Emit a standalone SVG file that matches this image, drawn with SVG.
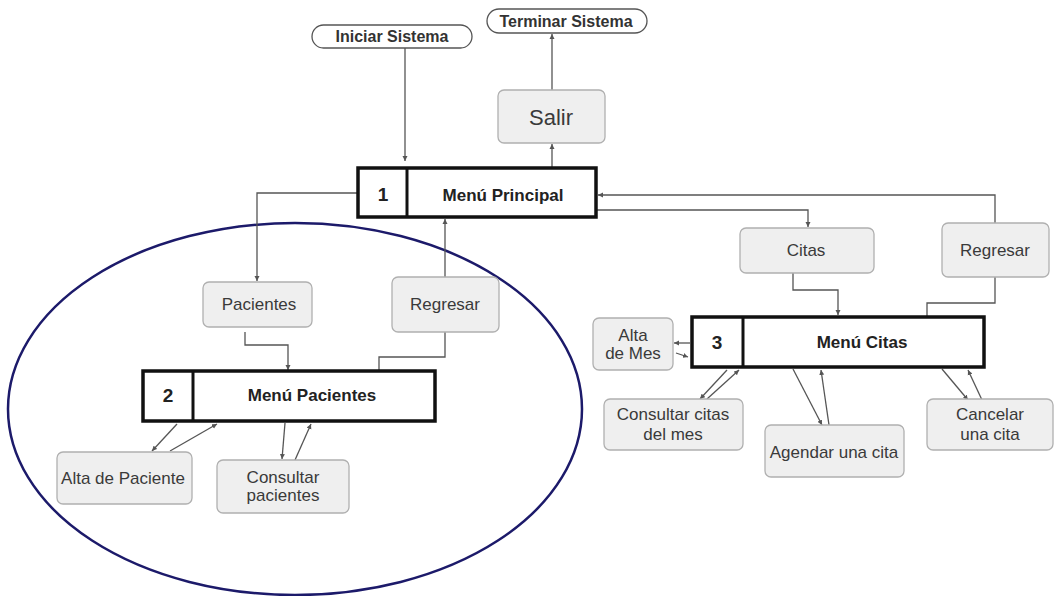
<svg xmlns="http://www.w3.org/2000/svg" width="1054" height="596" viewBox="0 0 1054 596">
<defs>
<marker id="ah" markerWidth="6" markerHeight="6" refX="5" refY="3" orient="auto" markerUnits="userSpaceOnUse">
<path d="M0,0.5 L5,3 L0,5.5 Z" fill="#555"/>
</marker>
<style>
.box{fill:#efefef;stroke:#b0b0b0;stroke-width:1.3}
.pill{fill:#fff;stroke:#555;stroke-width:1.3}
.menu{fill:#fff;stroke:#111;stroke-width:3.5}
.t{font-family:"Liberation Sans",Arial,sans-serif;font-size:17px;fill:#3a3a3a;text-anchor:middle}
.b{font-family:"Liberation Sans",Arial,sans-serif;font-size:17px;font-weight:bold;fill:#222;text-anchor:middle}
.p{font-family:"Liberation Sans",Arial,sans-serif;font-size:16px;font-weight:bold;fill:#333;text-anchor:middle}
.c{fill:none;stroke:#555;stroke-width:1.3}
.ca{fill:none;stroke:#555;stroke-width:1.3;marker-end:url(#ah)}
</style>
</defs>
<rect width="1054" height="596" fill="#fff"/>
<ellipse cx="295" cy="409" rx="287" ry="186" fill="none" stroke="#1c1a6a" stroke-width="2.5"/>
<g id="connectors">
<path class="ca" d="M405,48 V161"/>
<path class="ca" d="M552,90 V34"/>
<path class="ca" d="M552,167 V144"/>
<path class="ca" d="M357,193 H257 V281"/>
<path class="ca" d="M445,277 V219"/>
<path class="ca" d="M245,332 V345 H288 V370"/>
<path class="c" d="M379,370 V357 H445 V332"/>
<path class="ca" d="M177,424 L152,451"/>
<path class="ca" d="M170,451 L217,424"/>
<path class="ca" d="M285,423 L282,459"/>
<path class="ca" d="M295,460 L311,424"/>
<path class="ca" d="M995,223 V195 H598"/>
<path class="ca" d="M597,210 H808 V227"/>
<path class="ca" d="M793,273 V290 H838 V315"/>
<path class="c" d="M927,316 V303 H995 V277"/>
<path class="ca" d="M690,343 H674"/>
<path class="ca" d="M676,353 L688,357"/>
<path class="ca" d="M727,370 L700,399"/>
<path class="ca" d="M707,399 L739,370"/>
<path class="ca" d="M793,369 L822,425"/>
<path class="ca" d="M829,425 L821,370"/>
<path class="ca" d="M942,369 L968,400"/>
<path class="ca" d="M982,400 L968,370"/>
</g>
<g id="iniciar">
<rect class="pill" x="312" y="25" width="160" height="23" rx="11.5"/>
<text class="p" x="392" y="42">Iniciar Sistema</text>
</g>
<g id="terminar">
<rect class="pill" x="487" y="9" width="160" height="24" rx="12"/>
<text class="p" x="566" y="27">Terminar Sistema</text>
</g>
<g id="salir">
<rect class="box" x="498" y="90" width="107" height="53" rx="6"/>
<text class="t" x="551" y="125" style="font-size:22px">Salir</text>
</g>
<g id="menu-principal">
<rect class="menu" x="358" y="168" width="238" height="49"/>
<line x1="407" y1="168" x2="407" y2="217" stroke="#111" stroke-width="3"/>
<text class="b" x="383" y="201" style="font-size:19px">1</text>
<text class="b" x="503" y="201">Menú Principal</text>
</g>
<g id="pacientes">
<rect class="box" x="203" y="282" width="109" height="45" rx="6"/>
<text class="t" x="259" y="310">Pacientes</text>
</g>
<g id="regresar-1">
<rect class="box" x="392" y="277" width="107" height="55" rx="6"/>
<text class="t" x="445" y="310">Regresar</text>
</g>
<g id="menu-pacientes">
<rect class="menu" x="143" y="371" width="292" height="50"/>
<line x1="193" y1="371" x2="193" y2="421" stroke="#111" stroke-width="3"/>
<text class="b" x="168" y="402" style="font-size:19px">2</text>
<text class="b" x="312" y="401">Menú Pacientes</text>
</g>
<g id="alta-paciente">
<rect class="box" x="57" y="452" width="135" height="52" rx="6"/>
<text class="t" x="123" y="484">Alta de Paciente</text>
</g>
<g id="consultar-pacientes">
<rect class="box" x="217" y="460" width="132" height="53" rx="6"/>
<text class="t" x="283" y="483">Consultar</text>
<text class="t" x="283" y="501">pacientes</text>
</g>
<g id="citas">
<rect class="box" x="740" y="228" width="134" height="45" rx="6"/>
<text class="t" x="806" y="256">Citas</text>
</g>
<g id="regresar-2">
<rect class="box" x="942" y="223" width="107" height="54" rx="6"/>
<text class="t" x="995" y="256">Regresar</text>
</g>
<g id="menu-citas">
<rect class="menu" x="692" y="317" width="292" height="50"/>
<line x1="743" y1="317" x2="743" y2="367" stroke="#111" stroke-width="3"/>
<text class="b" x="717" y="349" style="font-size:19px">3</text>
<text class="b" x="862" y="348">Menú Citas</text>
</g>
<g id="alta-mes">
<rect class="box" x="593" y="318" width="80" height="52" rx="6"/>
<text class="t" x="633" y="341">Alta</text>
<text class="t" x="633" y="359">de Mes</text>
</g>
<g id="consultar-citas">
<rect class="box" x="604" y="399" width="139" height="51" rx="6"/>
<text class="t" x="673" y="420">Consultar citas</text>
<text class="t" x="673" y="440">del mes</text>
</g>
<g id="agendar">
<rect class="box" x="765" y="425" width="139" height="52" rx="6"/>
<text class="t" x="834" y="458">Agendar una cita</text>
</g>
<g id="cancelar">
<rect class="box" x="927" y="399" width="126" height="51" rx="6"/>
<text class="t" x="990" y="420">Cancelar</text>
<text class="t" x="990" y="440">una cita</text>
</g>
</svg>
